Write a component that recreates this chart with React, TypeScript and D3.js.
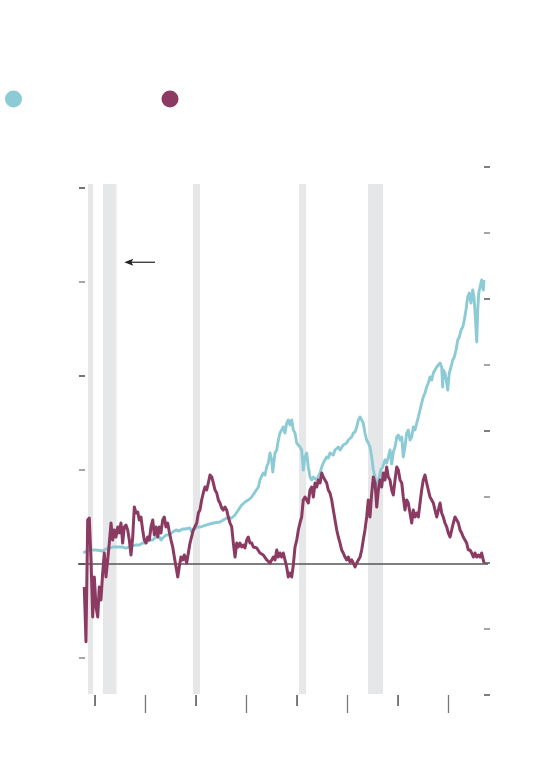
import React from "react";
import * as d3 from "d3";

// ---- data (years as decimal, values on each axis' own units) ----
const recessions: [number, number][] = [
  [1979.97, 1980.47],
  [1981.46, 1982.81],
  [1990.42, 1991.11],
  [2000.97, 2001.67],
  [2007.83, 2009.32],
];

const xTickYears = [1980.67, 1985.69, 1990.72, 1995.74, 2000.77, 2005.79, 2010.82, 2015.84];
const leftTicks = [-1, 0, 1, 2, 3, 4];
const rightTicks = [-2, -1, 0, 1, 2, 3, 4, 5, 6];

const maroonYears = [
  1979.6, 1979.77, 1979.94, 1980.1, 1980.27, 1980.44, 1980.6, 1980.77, 1980.94, 1981.09,
  1981.26, 1981.43, 1981.59, 1981.76, 1981.93, 1982.09, 1982.26, 1982.43, 1982.59, 1982.76,
  1982.93, 1983.08, 1983.25, 1983.42, 1983.58, 1983.75, 1983.92, 1984.08, 1984.25, 1984.42,
  1984.58, 1984.75, 1984.92, 1985.07, 1985.24, 1985.41, 1985.57, 1985.74, 1985.91, 1986.07,
  1986.24, 1986.41, 1986.57, 1986.74, 1986.91, 1987.06, 1987.23, 1987.4, 1987.56, 1987.73,
  1987.9, 1988.06, 1988.23, 1988.4, 1988.56, 1988.73, 1988.9, 1989.05, 1989.22, 1989.39,
  1989.55, 1989.79, 1990.12, 1990.45, 1990.79, 1990.95, 1991.11, 1991.28, 1991.44, 1991.61,
  1991.78, 1991.94, 1992.11, 1992.28, 1992.44, 1992.61, 1992.78, 1992.94, 1993.1, 1993.27,
  1993.43, 1993.6, 1993.77, 1993.93, 1994.1, 1994.27, 1994.43, 1994.6, 1994.77, 1994.93,
  1995.09, 1995.26, 1995.42, 1995.59, 1995.76, 1995.92, 1996.09, 1996.26, 1996.42, 1996.76,
  1997.08, 1997.41, 1997.75, 1998.08, 1998.25, 1998.41, 1998.58, 1998.75, 1998.91, 1999.07,
  1999.24, 1999.4, 1999.57, 1999.74, 1999.9, 2000.07, 2000.24, 2000.4, 2000.57, 2000.74,
  2000.9, 2001.06, 2001.23, 2001.39, 2001.56, 2001.73, 2001.89, 2002.06, 2002.23, 2002.39,
  2002.56, 2002.73, 2002.89, 2003.06, 2003.23, 2003.38, 2003.55, 2003.72, 2003.88, 2004.05,
  2004.22, 2004.38, 2004.55, 2004.72, 2004.88, 2005.05, 2005.21, 2005.37, 2005.54, 2005.71,
  2005.87, 2006.04, 2006.21, 2006.37, 2006.54, 2006.71, 2006.87, 2007.04, 2007.2, 2007.36,
  2007.53, 2007.7, 2007.86, 2008.03, 2008.2, 2008.36, 2008.53, 2008.7, 2008.86, 2009.02,
  2009.19, 2009.35, 2009.52, 2009.69, 2009.85, 2010.02, 2010.19, 2010.35, 2010.52, 2010.69,
  2010.85, 2011.02, 2011.19, 2011.34, 2011.51, 2011.68, 2011.84, 2012.01, 2012.18, 2012.34,
  2012.51, 2012.68, 2012.84, 2013.01, 2013.17, 2013.33, 2013.5, 2013.67, 2013.83, 2014.0,
  2014.17, 2014.33, 2014.5, 2014.67, 2014.83, 2015.0, 2015.16, 2015.32, 2015.49, 2015.66,
  2015.82, 2015.99, 2016.16, 2016.32, 2016.49, 2016.66, 2016.82, 2016.99, 2017.15, 2017.31,
  2017.48, 2017.65, 2017.81, 2017.98, 2018.15, 2018.31, 2018.48, 2018.65, 2018.81, 2018.98,
  2019.14, 2019.3, 2019.37,
];
const maroonValues = [
  -0.245, -0.827, 0.468, 0.489, 0.043, -0.564, -0.138, -0.457, -0.564, -0.245,
  -0.383, -0.096, 0.117, -0.138, 0.043, 0.223, 0.436, 0.255, 0.362, 0.287,
  0.394, 0.33, 0.436, 0.223, 0.394, 0.415, 0.362, 0.255, 0.096, 0.287,
  0.606, 0.543, 0.553, 0.468, 0.5, 0.362, 0.255, 0.223, 0.287, 0.255,
  0.394, 0.468, 0.309, 0.394, 0.287, 0.394, 0.33, 0.468, 0.5, 0.394,
  0.436, 0.34, 0.255, 0.181, 0.074, -0.032, -0.138, -0.032, 0.074, 0.043,
  0.096, 0.011, 0.223, 0.362, 0.436, 0.543, 0.574, 0.681, 0.755, 0.819,
  0.787, 0.862, 0.947, 0.926, 0.862, 0.787, 0.755, 0.681, 0.649, 0.596,
  0.574, 0.606, 0.574, 0.5, 0.436, 0.394, 0.223, 0.074, 0.223, 0.181,
  0.223, 0.181, 0.202, 0.17, 0.255, 0.287, 0.223, 0.223, 0.181, 0.17,
  0.117, 0.096, 0.043, 0.011, 0.043, 0.074, 0.043, 0.149, 0.074, 0.117,
  0.074, 0.117, 0.043, -0.032, -0.138, -0.096, -0.138, -0.01, 0.181, 0.255,
  0.362, 0.436, 0.5, 0.681, 0.713, 0.681, 0.649, 0.787, 0.819, 0.713,
  0.862, 0.819, 0.894, 0.862, 0.968, 0.926, 0.894, 0.862, 0.787, 0.755,
  0.681, 0.574, 0.468, 0.362, 0.287, 0.223, 0.149, 0.117, 0.074, 0.043,
  0.074, 0.021, 0.043, 0.011, -0.032, 0.011, 0.043, 0.074, 0.149, 0.255,
  0.362, 0.5, 0.681, 0.5, 0.755, 0.926, 0.862, 0.606, 0.787, 0.894,
  0.819, 0.968, 0.894, 1.032, 0.926, 0.894, 0.787, 0.734, 0.894, 1.032,
  1.0, 0.894, 0.862, 0.713, 0.574, 0.681, 0.649, 0.543, 0.436, 0.574,
  0.5, 0.543, 0.5, 0.649, 0.787, 0.894, 0.947, 0.862, 0.787, 0.713,
  0.681, 0.649, 0.574, 0.5, 0.574, 0.649, 0.543, 0.5, 0.436, 0.394,
  0.33, 0.287, 0.362, 0.436, 0.5, 0.468, 0.436, 0.362, 0.33, 0.287,
  0.255, 0.223, 0.149, 0.149, 0.117, 0.074, 0.117, 0.074, 0.096, 0.074,
  0.117, 0.043, 0.011,
];

const tealYears = [
  1979.5, 1980.1, 1980.77, 1981.43, 1981.76, 1982.09, 1982.43, 1982.76, 1983.08, 1983.42,
  1983.75, 1984.08, 1984.42, 1984.75, 1985.07, 1985.41, 1985.74, 1986.07, 1986.41, 1986.74,
  1987.06, 1987.23, 1987.4, 1987.73, 1988.06, 1988.4, 1988.73, 1989.05, 1989.39, 1989.65,
  1990.12, 1990.29, 1990.79, 1991.11, 1991.78, 1992.44, 1993.1, 1993.77, 1994.27, 1994.6,
  1994.93, 1995.26, 1995.59, 1995.92, 1996.26, 1996.59, 1996.92, 1997.08, 1997.41, 1997.58,
  1997.75, 1997.91, 1998.08, 1998.25, 1998.35, 1998.58, 1998.75, 1998.91, 1999.07, 1999.24,
  1999.4, 1999.57, 1999.74, 1999.9, 2000.07, 2000.24, 2000.4, 2000.57, 2000.74, 2000.9,
  2001.06, 2001.23, 2001.39, 2001.56, 2001.73, 2001.89, 2002.06, 2002.23, 2002.39, 2002.73,
  2003.06, 2003.23, 2003.38, 2003.72, 2003.88, 2004.05, 2004.38, 2004.55, 2004.88, 2005.05,
  2005.37, 2005.71, 2005.87, 2006.21, 2006.37, 2006.54, 2006.71, 2006.87, 2007.04, 2007.2,
  2007.36, 2007.53, 2007.7, 2007.86, 2008.03, 2008.2, 2008.36, 2008.53, 2008.7, 2008.8,
  2008.96, 2009.09, 2009.29, 2009.52, 2009.69, 2009.85, 2010.02, 2010.19, 2010.35, 2010.52,
  2010.69, 2010.85, 2011.02, 2011.19, 2011.34, 2011.51, 2011.68, 2011.84, 2012.01, 2012.18,
  2012.34, 2012.51, 2012.68, 2012.84, 2013.01, 2013.17, 2013.33, 2013.5, 2013.67, 2013.83,
  2014.0, 2014.17, 2014.33, 2014.5, 2014.67, 2014.83, 2015.0, 2015.16, 2015.26, 2015.32,
  2015.49, 2015.66, 2015.76, 2015.92, 2016.09, 2016.26, 2016.42, 2016.59, 2016.76, 2016.92,
  2017.09, 2017.26, 2017.41, 2017.58, 2017.75, 2017.91, 2018.08, 2018.25, 2018.38, 2018.51,
  2018.65, 2018.75, 2018.85, 2018.98, 2019.14, 2019.3, 2019.37,
];
const tealValues = [
  0.156, 0.197, 0.197, 0.182, 0.212, 0.227, 0.242, 0.242, 0.242, 0.242,
  0.227, 0.242, 0.258, 0.273, 0.273, 0.303, 0.303, 0.348, 0.348, 0.394,
  0.394, 0.348, 0.379, 0.424, 0.424, 0.47, 0.5, 0.485, 0.515, 0.515,
  0.53, 0.47, 0.545, 0.545, 0.576, 0.606, 0.621, 0.682, 0.682, 0.727,
  0.803, 0.879, 0.924, 0.955, 1.0, 1.076, 1.152, 1.258, 1.364, 1.333,
  1.455, 1.515, 1.667, 1.561, 1.379, 1.667, 1.712, 1.864, 1.97, 2.015,
  2.061, 1.97, 2.121, 2.167, 2.091, 2.167, 2.015, 1.97, 1.818, 1.788,
  1.758, 1.712, 1.409, 1.606, 1.667, 1.455, 1.303, 1.258, 1.303, 1.258,
  1.364, 1.455, 1.515, 1.606, 1.591, 1.667, 1.636, 1.712, 1.758, 1.712,
  1.788, 1.818, 1.864, 1.909, 1.97, 1.985, 2.061, 2.167, 2.212, 2.167,
  2.121, 1.97, 1.864, 1.818, 1.758, 1.606, 1.409, 1.303, 1.061, 1.212,
  1.303, 1.409, 1.455, 1.561, 1.515, 1.606, 1.712, 1.5, 1.682, 1.758,
  1.909, 1.939, 1.864, 1.909, 1.606, 1.758, 1.97, 2.015, 1.864, 1.909,
  2.061, 2.015, 2.121, 2.212, 2.318, 2.424, 2.515, 2.576, 2.667, 2.727,
  2.818, 2.773, 2.879, 2.924, 2.97, 3.0, 3.03, 2.97, 2.667, 2.924,
  2.879, 2.727, 2.621, 2.879, 2.97, 3.076, 3.121, 3.227, 3.379, 3.424,
  3.53, 3.576, 3.682, 3.833, 4.03, 4.091, 3.939, 4.136, 4.03, 3.727,
  3.348, 3.833, 4.091, 4.182, 4.288, 4.136, 4.288,
];

// annotation arrow (years, left-axis value)
const arrowFrom: [number, number] = [1986.64, 3.21];
const arrowTo: [number, number] = [1983.58, 3.21];

const TEAL = "#8ccbd6";
const MAROON = "#8b3a62";
const BAND = "#e6e7e9";

export default function App() {
  const W = 560;
  const H = 764;
  const x = d3.scaleLinear().domain([1980, 2020]).range([88.3, 490.3]);
  const yL = d3.scaleLinear().domain([-1, 4]).range([658, 188]);
  const yR = d3.scaleLinear().domain([-2, 6]).range([695, 167]);
  const top = 184;
  const bottom = 694;

  const maroon = maroonYears.map((yr, i) => [yr, maroonValues[i]] as [number, number]);
  const teal = tealYears.map((yr, i) => [yr, tealValues[i]] as [number, number]);

  const lineL = d3.line<[number, number]>().x((d) => x(d[0])).y((d) => yL(d[1]));
  const lineR = d3.line<[number, number]>().x((d) => x(d[0])).y((d) => yR(d[1]));

  const ax1 = x(arrowFrom[0]);
  const ax2 = x(arrowTo[0]);
  const ay = yL(arrowFrom[1]);

  return (
    <svg
      width={W}
      height={H}
      style={{ position: "absolute", left: 0, top: 0, background: "#fff" }}
    >
      {/* legend dots */}
      <circle cx={13.5} cy={99} r={8.5} fill={TEAL} />
      <circle cx={170} cy={99} r={8.5} fill={MAROON} />

      {/* recession bands */}
      {recessions.map(([a, b], i) => (
        <rect key={i} x={x(a)} y={top} width={x(b) - x(a)} height={bottom - top} fill={BAND} />
      ))}

      {/* left ticks */}
      {leftTicks.map((t, i) => (
        <line
          key={"l" + i}
          x1={79}
          x2={85}
          y1={yL(t)}
          y2={yL(t)}
          stroke={i % 2 === 0 ? "#888" : "#444"}
          strokeWidth={1.5}
        />
      ))}
      {/* right ticks */}
      {rightTicks.map((t, i) => (
        <line
          key={"r" + i}
          x1={484}
          x2={490}
          y1={yR(t)}
          y2={yR(t)}
          stroke={i % 2 === 0 ? "#555" : "#888"}
          strokeWidth={1.5}
        />
      ))}
      {/* bottom ticks */}
      {xTickYears.map((t, i) => (
        <line
          key={"b" + i}
          x1={x(t)}
          x2={x(t)}
          y1={bottom + 1}
          y2={i % 2 === 0 ? 706 : 713}
          stroke={i % 2 === 0 ? "#333" : "#777"}
          strokeWidth={1.3}
        />
      ))}

      {/* zero line */}
      <line x1={78} x2={488} y1={yL(0)} y2={yL(0)} stroke="#555" strokeWidth={1.4} />

      {/* series */}
      <path d={lineR(teal) || ""} fill="none" stroke={TEAL} strokeWidth={2.9} strokeLinejoin="round" />
      <path d={lineL(maroon) || ""} fill="none" stroke={MAROON} strokeWidth={3} strokeLinejoin="round" />

      {/* arrow */}
      <line x1={ax1} x2={ax2 + 6} y1={ay} y2={ay} stroke="#333" strokeWidth={1.3} />
      <path d={`M${ax2},${ay} L${ax2 + 9},${ay - 3.5} L${ax2 + 7},${ay} L${ax2 + 9},${ay + 3.5} Z`} fill="#222" />
    </svg>
  );
}
